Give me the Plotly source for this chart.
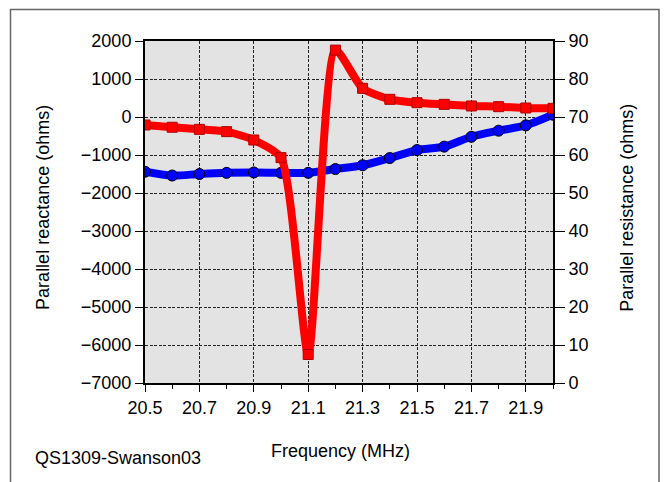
import plotly.graph_objects as go

# ---- data ----
freq_mhz = [20.5, 20.6, 20.7, 20.8, 20.9, 21.0, 21.1, 21.2,
            21.3, 21.4, 21.5, 21.6, 21.7, 21.8, 21.9, 22.0]
reactance_ohms = [-210, -270, -325, -385, -605, -1070, -6250, 1760,
                  755, 465, 377, 333, 290, 272, 237, 228]
resistance_ohms = [55.6, 54.6, 55.0, 55.3, 55.4, 55.3, 55.3, 56.3,
                   57.3, 59.2, 61.3, 62.2, 64.8, 66.4, 67.8, 70.6]

x_ticks = [20.5, 20.7, 20.9, 21.1, 21.3, 21.5, 21.7, 21.9]
left_ticks = [2000, 1000, 0, -1000, -2000, -3000, -4000, -5000, -6000, -7000]
right_ticks = [0, 10, 20, 30, 40, 50, 60, 70, 80, 90]

FONT = "Liberation Sans, Arial, sans-serif"

fig = go.Figure()

# resistance on base axis (right side) so reactance draws on top
fig.add_trace(go.Scatter(
    x=freq_mhz, y=resistance_ohms, yaxis="y", mode="lines+markers",
    line=dict(color="#0000FF", width=8, shape="spline", smoothing=0.8),
    marker=dict(symbol="circle", size=11, color="#0000FF",
                line=dict(color="#000000", width=1)),
    showlegend=False, name="Parallel resistance"))

fig.add_trace(go.Scatter(
    x=freq_mhz, y=reactance_ohms, yaxis="y2", mode="lines+markers",
    line=dict(color="#FF0000", width=8, shape="spline", smoothing=0.6),
    marker=dict(symbol="square", size=10, color="#FF0000",
                line=dict(color="#B00000", width=1)),
    showlegend=False, name="Parallel reactance"))

grid = dict(showgrid=True, gridcolor="#222222", gridwidth=1, griddash="3px,1.5px")

fig.update_layout(
    width=664, height=482,
    margin=dict(l=145, r=111, t=41, b=99),
    paper_bgcolor="white", plot_bgcolor="#E3E3E3",
    font=dict(family=FONT, size=18, color="black"),
    xaxis=dict(range=[20.5, 22.0], tickvals=x_ticks,
               ticktext=[f"{v:.1f}" for v in x_ticks],
               ticks="outside", ticklen=7, tickwidth=1, tickcolor="black",
               minor=dict(dtick=0.1, tick0=20.5, ticks="outside", ticklen=4,
                          tickcolor="black", showgrid=False),
               showline=True, linecolor="black", linewidth=2, mirror=True,
               zeroline=False, **grid),
    yaxis=dict(range=[0, 90], tickvals=right_ticks, side="right",
               ticks="outside", ticklen=10, tickwidth=1, tickcolor="black",
               showline=True, linecolor="black", linewidth=2,
               zeroline=False, **grid),
    yaxis2=dict(range=[-7000, 2000], tickvals=left_ticks, side="left",
                overlaying="y", ticks="outside", ticklen=8, tickwidth=1,
                tickcolor="black", showline=True, linecolor="black",
                linewidth=2, zeroline=False, showgrid=False),
    annotations=[
        dict(text="Parallel reactance (ohms)", xref="paper", yref="paper",
             x=-0.25, y=0.512, textangle=-90, showarrow=False,
             xanchor="center", yanchor="middle", font=dict(size=18)),
        dict(text="Parallel resistance (ohms)", xref="paper", yref="paper",
             x=1.181, y=0.512, textangle=-90, showarrow=False,
             xanchor="center", yanchor="middle", font=dict(size=18)),
        dict(text="Frequency (MHz)", xref="paper", yref="paper",
             x=0.48, y=-0.199, showarrow=False,
             xanchor="center", yanchor="middle", font=dict(size=18)),
        dict(text="QS1309-Swanson03", xref="paper", yref="paper",
             x=-0.274, y=-0.219, showarrow=False,
             xanchor="left", yanchor="middle", font=dict(size=18)),
    ],
    shapes=[
        dict(type="rect", xref="paper", yref="paper",
             x0=(10.5 - 145) / 408, x1=(659 - 145) / 408,
             y0=(383 - 495) / 342, y1=(383 - 9.5) / 342,
             line=dict(color="#666666", width=1.5), layer="below"),
    ],
)

fig.write_html("out.html")
